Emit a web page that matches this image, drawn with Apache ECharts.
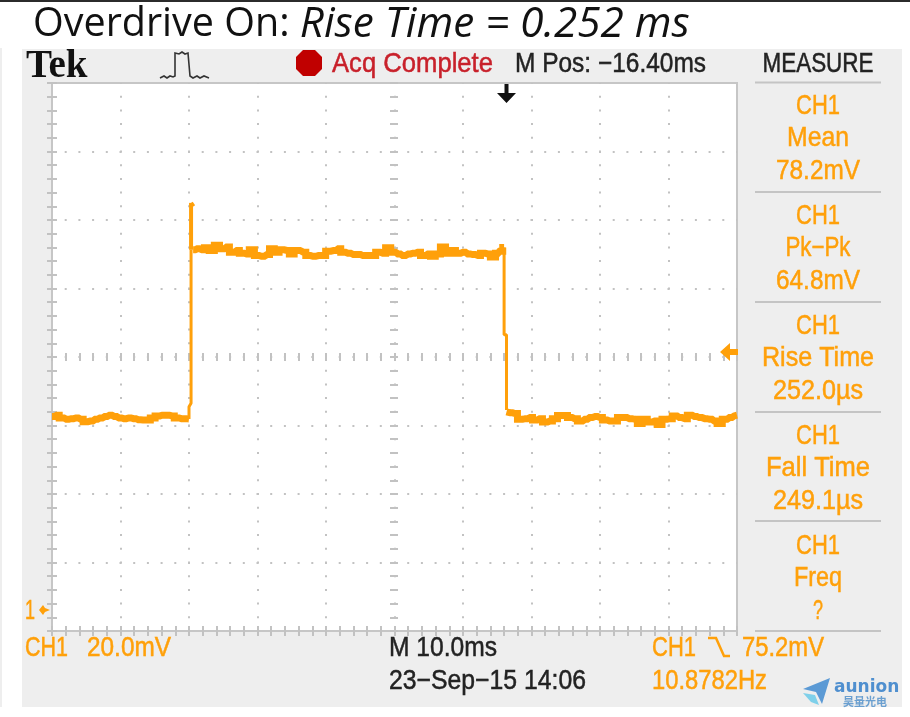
<!DOCTYPE html>
<html>
<head>
<meta charset="utf-8">
<title>Overdrive On</title>
<script src="https://cdn.jsdelivr.net/npm/echarts@6/dist/echarts.min.js"></script>
<style>
  html, body { margin: 0; padding: 0; background: #fff; }
  #main { width: 910px; height: 717px; filter: blur(0.5px); }
</style>
</head>
<body>
<div id="main"></div>
<script>
// time in ms from the left edge of the screen (10 ms/div),
// trace height in mV above the bottom edge of the screen (20 mV/div)
const lowATime = [0, 0.7, 1.4, 2.1, 2.8, 3.5, 4.2, 4.9, 5.6, 6.3, 7.0, 7.7, 8.4, 9.1, 9.8, 10.5, 11.2, 11.9, 12.6, 13.3, 14.0, 14.7, 15.4, 16.1, 16.8, 17.5, 18.2, 18.9, 19.6, 20.0];
const lowAVolts = [62.6, 63.0, 62.2, 61.8, 62.0, 62.2, 61.8, 61.1, 61.3, 61.8, 62.2, 62.6, 63.0, 62.6, 62.2, 62.0, 62.2, 62.0, 61.7, 61.6, 61.6, 62.2, 62.8, 63.0, 63.0, 62.8, 62.2, 62.0, 62.0, 61.9];

const riseEdgeTime = [20.0, 20.0, 20.3, 20.3];
const riseEdgeVolts = [61.9, 65.5, 66.5, 111.3];

const peakTime = [20.3, 20.65];
const peakVolts = [125.0, 124.0];

const highTime = [
  20.6, 21.2, 21.9, 22.6, 23.3, 24.1, 24.8, 25.5, 26.3, 27.0, 27.7, 28.4, 29.2, 29.9, 30.6, 31.4, 32.1, 32.8, 33.5, 34.3, 35.0, 35.7,
  36.7, 37.4, 38.1, 38.9, 39.6, 40.3, 41.1, 41.8, 42.5, 43.2, 44.0, 44.7, 45.4, 46.2, 46.9, 47.6, 48.3, 49.1, 49.8, 50.5, 51.2, 52.0,
  52.7, 53.4, 54.2, 54.9, 55.6, 56.3, 57.1, 57.8, 58.5, 59.3, 60.0, 60.7, 61.4, 62.2, 62.9, 63.6, 64.4, 65.1, 65.6, 66.0
];
const highVolts = [
  111.3, 111.6, 111.3, 111.9, 111.1, 112.6, 111.6, 112.1, 110.6, 111.1, 110.3, 110.1, 111.3, 109.6, 109.4, 109.9, 111.6, 110.6, 111.3, 111.1, 110.1, 111.1,
  110.6, 109.6, 109.4, 109.6, 109.6, 110.9, 111.1, 111.6, 110.6, 110.3, 109.9, 109.9, 109.6, 109.6, 109.6, 110.6, 110.3, 111.9, 110.6, 110.1, 109.6, 110.1,
  110.3, 110.6, 109.6, 110.1, 109.4, 110.1, 112.1, 110.3, 111.1, 110.3, 110.6, 110.1, 109.9, 109.6, 110.3, 110.1, 109.2, 110.3, 110.9, 112.0
];

const fallEdgeTime = [66.0, 66.0, 66.35, 66.35];
const fallEdgeVolts = [112.0, 86.5, 86.5, 64.5];

const lowBTime = [
  66.35, 66.9, 67.6, 68.3, 69.1, 69.8, 70.5, 71.2, 72.0, 72.7, 73.4, 74.2, 74.9, 75.6, 76.3, 77.1, 77.8, 78.5, 79.3, 80.0, 80.7, 81.4,
  82.2, 82.9, 83.6, 84.3, 85.1, 85.8, 86.5, 87.3, 88.0, 88.7, 89.4, 90.2, 90.9, 91.6, 92.4, 93.1, 93.8, 94.5, 95.3, 96.0, 96.7, 97.5, 98.2, 98.9, 99.6, 100
];
const lowBVolts = [
  64.0, 63.7, 63.5, 61.8, 62.0, 62.3, 61.6, 62.0, 61.0, 61.3, 62.0, 62.9, 62.9, 62.3, 62.0, 61.3, 61.8, 62.3, 62.6, 62.3, 61.6, 61.3,
  61.3, 62.3, 62.3, 62.0, 61.8, 60.6, 61.8, 61.0, 61.3, 60.3, 61.8, 62.0, 62.8, 62.3, 62.0, 63.0, 62.6, 62.3, 62.0, 61.8, 61.3, 60.6, 61.8, 62.3, 62.8, 63.0
];

const traceColor = "#ffa00a";
const gridColor = "#c2c2c2";
const lcdFont = "'Liberation Sans', sans-serif";

const measureLabels = [
  ["CH1", "Mean", "78.2mV"],
  ["CH1", "Pk\u2212Pk", "64.8mV"],
  ["CH1", "Rise Time", "252.0\u00b5s"],
  ["CH1", "Fall Time", "249.1\u00b5s"],
  ["CH1", "Freq", "?"],
];
const measureWidths = [
  [44, 62, 84],
  [44, 65, 84],
  [44, 112, 90],
  [44, 104, 90],
  [44, 48, 10],
];
const measureRows = [106, 216, 326, 436, 546];
const measureLines = [82.5, 192, 302, 412, 521, 631];

const measureCtx = document.createElement("canvas").getContext("2d");

// the scope's LCD font is narrower than anything installed, so squeeze to the width in the picture
function label(text, x, y, fill, width, align) {
  const font = "28px " + lcdFont;
  measureCtx.font = font;
  return {
    type: "text",
    z: 20,
    x: x,
    y: y,
    scaleX: width / measureCtx.measureText(text).width,
    style: {
      text: text,
      fill: fill,
      stroke: fill,
      lineWidth: 0.5,
      font: font,
      textAlign: align || "left",
      textVerticalAlign: "middle",
    },
  };
}

function poly(points, fill) {
  return { type: "polygon", z: 20, shape: { points: points }, style: { fill: fill } };
}

function line(points, stroke, width) {
  return {
    type: "polyline",
    z: 20,
    shape: { points: points },
    style: { stroke: stroke, lineWidth: width, fill: "none" },
  };
}

const graphics = [
  { type: "rect", z: -5, shape: { x: 0, y: 0, width: 910, height: 2 }, style: { fill: "#2b2b2b" } },
  { type: "rect", z: -5, shape: { x: 0, y: 48, width: 2, height: 659 }, style: { fill: "#eeeeee" } },
  { type: "rect", z: -5, shape: { x: 22, y: 49, width: 880, height: 658 }, style: { fill: "#eeeeee" } },
  {
    type: "text",
    z: 20,
    style: {
      text: "{a|Overdrive On: }{b|Rise Time = 0.252 ms}",
      x: 33,
      y: 25,
      textVerticalAlign: "middle",
      rich: {
        a: { font: "39.5px 'Open Sans'", fill: "#111" },
        b: { font: "italic 42.2px 'Open Sans'", fill: "#111" },
      },
    },
  },
  {
    type: "text",
    z: 20,
    style: {
      text: "Tek",
      x: 26,
      y: 67,
      fill: "#111",
      font: "bold 39px 'Liberation Serif'",
      textVerticalAlign: "middle",
    },
  },
  line([[160, 78], [164, 76], [167, 78], [170, 76], [173, 77], [175, 76], [175, 53], [179, 54], [182, 52], [185, 54], [188, 53], [190, 76], [193, 78], [197, 76], [200, 78], [204, 76], [209, 78]], "#333", 1.6),
  poly([[303, 50], [315, 50], [322, 57], [322, 69], [315, 76], [303, 76], [296, 69], [296, 57]], "#c00000"),
  label("Acq Complete", 332, 64, "#c8202a", 161),
  label("M Pos: \u221216.40ms", 515, 64, "#222", 191),
  label("MEASURE", 818, 64, "#222", 111, "center"),
  label("CH1", 25, 648, traceColor, 43),
  label("20.0mV", 87, 648, traceColor, 84),
  label("M 10.0ms", 389, 648, "#222", 108),
  label("23\u2212Sep\u221215 14:06", 389, 681, "#222", 197),
  label("CH1", 652, 648, traceColor, 44),
  line([[708, 638], [716, 638], [724, 656], [730, 656]], traceColor, 2.5),
  label("75.2mV", 742, 648, traceColor, 82),
  label("10.8782Hz", 652, 681, traceColor, 115),
  label("1", 25, 611, traceColor, 10),
  // ground marker, trigger level marker, trigger position marker
  poly([[39, 610], [43, 605], [45, 608], [50, 610], [45, 612], [43, 615]], traceColor),
  poly([[720, 352], [730, 343], [730, 349], [738, 349], [738, 355], [730, 355], [730, 361]], traceColor),
  poly([[504.5, 84], [508.5, 84], [508.5, 93], [516, 93], [506.5, 103], [497, 93], [504.5, 93]], "#111"),
  // logo
  poly([[803, 689], [830, 678], [822, 704], [816, 692]], "#5b9ad5"),
  poly([[803, 693], [815, 695], [819, 705], [811, 702]], "#7fd0ea"),
  {
    type: "text",
    z: 20,
    style: {
      text: "aunion",
      x: 834,
      y: 688,
      fill: "#4f8fcf",
      font: "bold 17px 'DejaVu Sans'",
      textVerticalAlign: "middle",
    },
  },
  {
    type: "text",
    z: 20,
    style: {
      text: "昊量光电",
      x: 865,
      y: 702,
      fill: "#6a9fd0",
      font: "bold 11px 'Noto Sans CJK SC'",
      textAlign: "center",
      textVerticalAlign: "middle",
    },
  },
];

measureLines.forEach(function (y) {
  graphics.push(line([[755, y], [881, y]], "#c4c4c4", 2));
});
measureLabels.forEach(function (rows, i) {
  rows.forEach(function (text, j) {
    graphics.push(label(text, 818, measureRows[i] + j * 32.7, traceColor, measureWidths[i][j], "center"));
  });
});

const tickStyle = { color: gridColor, width: 2 };

function xAxisDef(position, offset, len) {
  return {
    type: "value",
    min: 0,
    max: 100,
    interval: 10,
    position: position,
    offset: offset,
    axisLine: { show: false },
    axisLabel: { show: false },
    axisTick: { show: true, inside: true, length: len, lineStyle: tickStyle },
    minorTick: { show: true, splitNumber: 5, length: len, lineStyle: tickStyle },
    splitLine: { show: false },
  };
}

function yAxisDef(position, offset, len) {
  return {
    type: "value",
    min: 0,
    max: 160,
    interval: 20,
    position: position,
    offset: offset,
    axisLine: { show: false },
    axisLabel: { show: false },
    axisTick: { show: true, inside: true, length: len, lineStyle: tickStyle },
    minorTick: { show: true, splitNumber: 5, length: len, lineStyle: tickStyle },
    splitLine: { show: false },
  };
}

// dotted graticule on the main axes
const dotted = {
  show: true,
  showMinLine: false,
  showMaxLine: false,
  lineStyle: { color: gridColor, width: 2, type: [2, 11.7], dashOffset: 1 },
};

function pairs(times, volts) {
  return times.map(function (t, i) {
    return [t, volts[i]];
  });
}

// plateaus are a thick blocky band, edges a thin line
function plateau(times, volts, width) {
  return {
    type: "line",
    silent: true,
    symbol: "none",
    step: "middle",
    z: 5,
    lineStyle: { color: traceColor, width: width, join: "miter" },
    data: pairs(times, volts),
  };
}

function edge(times, volts, width) {
  return {
    type: "line",
    silent: true,
    symbol: "none",
    z: 5,
    lineStyle: { color: traceColor, width: width || 3 },
    data: pairs(times, volts),
  };
}

const chart = echarts.init(document.getElementById("main"), null, { renderer: "canvas" });

const option = {
  animation: false,
  backgroundColor: "#ffffff",
  grid: {
    show: true,
    left: 52,
    top: 83,
    width: 685,
    height: 548,
    backgroundColor: "#ffffff",
    borderColor: "#c6c6c6",
    borderWidth: 2,
  },
  xAxis: [
    Object.assign(xAxisDef("bottom", 0, 5), { splitLine: dotted }),
    xAxisDef("top", 0, 5),
    xAxisDef("bottom", -270, 8),
  ],
  yAxis: [
    Object.assign(yAxisDef("left", 0, 5), { splitLine: dotted }),
    yAxisDef("right", 0, 5),
    yAxisDef("left", -338, 8),
  ],
  series: [
    plateau(lowATime, lowAVolts, 7),
    edge(riseEdgeTime, riseEdgeVolts),
    edge([riseEdgeTime[3], riseEdgeTime[3]], [riseEdgeVolts[3], peakVolts[0]], 4),
    edge(peakTime, peakVolts, 4),
    plateau(highTime, highVolts, 7),
    edge(fallEdgeTime, fallEdgeVolts),
    plateau(lowBTime, lowBVolts, 7),
  ],
  graphic: graphics,
};

chart.setOption(option);
</script>
</body>
</html>
